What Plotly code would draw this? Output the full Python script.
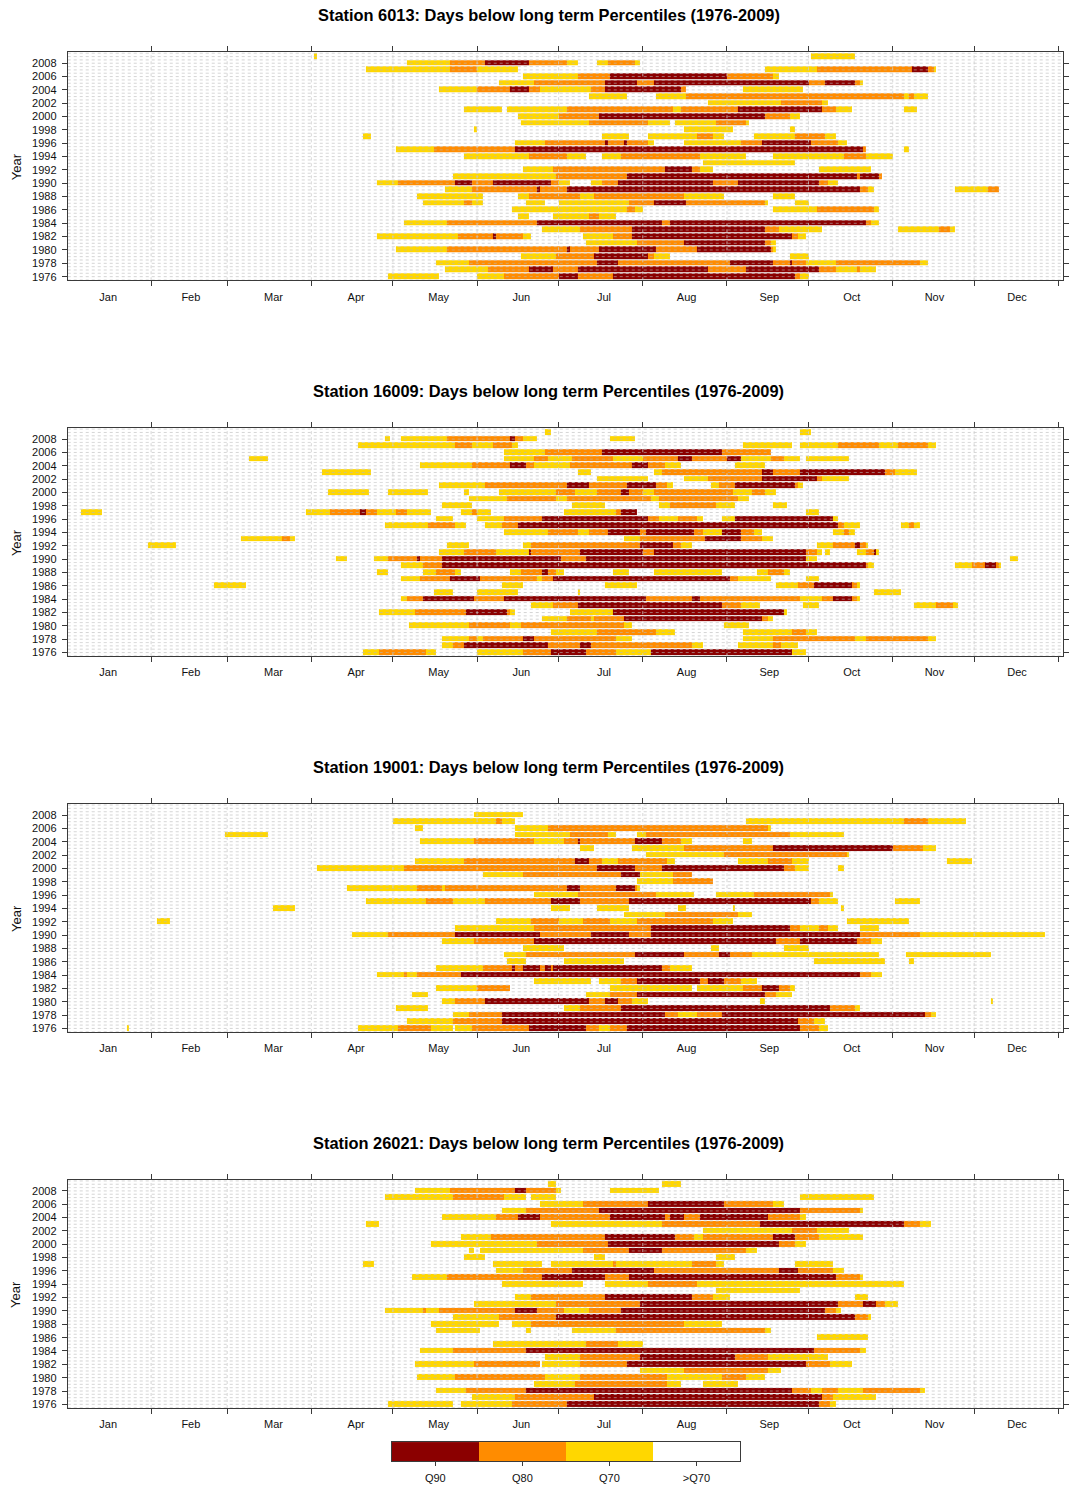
import numpy as np
import plotly.graph_objects as go

# ---------------------------------------------------------------------------
# Data
# ---------------------------------------------------------------------------
YEARS = list(range(1976, 2010))
MONTH_LABELS = ["Jan", "Feb", "Mar", "Apr", "May", "Jun",
                "Jul", "Aug", "Sep", "Oct", "Nov", "Dec"]
MONTH_DAYS = [31, 28, 31, 30, 31, 30, 31, 31, 30, 31, 30, 31]
YEAR_TICKS = list(range(1976, 2009, 2))
LEVEL_LABELS = ["Q90", "Q80", "Q70", ">Q70"]
LEVEL_COLORS = ["#8B0000", "#FF8C00", "#FFD700", "#FFFFFF"]
STATIONS = ["6013", "16009", "19001", "26021"]

# Runs of days below a long-term percentile, per year:
# (first_day, end_day, level); day 0 = 1 Jan, end exclusive;
# level 3 = below Q90, 2 = below Q80, 1 = below Q70.
RUNS_6013 = [
    (2009, [(91, 92, 1), (274, 290, 1)]),
    (2008, [(125, 141, 1), (141, 154, 2), (154, 170, 3), (170, 184, 2), (184, 188, 1), (195, 199, 1), (199, 209, 2), (209, 211, 1)]),
    (2007, [(110, 141, 1), (141, 151, 2), (151, 166, 1), (257, 276, 1), (276, 311, 2), (311, 317, 3), (317, 319, 2), (319, 320, 1)]),
    (2006, [(168, 188, 1), (188, 200, 2), (200, 243, 3), (243, 260, 2), (260, 262, 1)]),
    (2005, [(159, 172, 1), (172, 198, 2), (198, 210, 3), (210, 216, 2), (216, 273, 3), (273, 279, 2), (279, 290, 3), (290, 292, 2), (292, 293, 1)]),
    (2004, [(137, 151, 1), (151, 163, 2), (163, 170, 3), (170, 174, 2), (174, 193, 1), (193, 198, 2), (198, 226, 3), (226, 228, 2), (249, 271, 1)]),
    (2003, [(192, 206, 1), (217, 228, 1), (228, 308, 2), (308, 310, 1), (310, 312, 2), (312, 317, 1)]),
    (2002, [(236, 263, 1), (263, 278, 2), (278, 280, 1)]),
    (2001, [(146, 160, 1), (162, 184, 1), (184, 223, 2), (223, 226, 1), (226, 247, 2), (247, 278, 3), (278, 283, 2), (283, 289, 1), (308, 313, 1)]),
    (2000, [(166, 181, 1), (181, 196, 2), (196, 257, 3), (257, 266, 2), (266, 270, 1)]),
    (1999, [(167, 192, 1), (192, 214, 2), (214, 222, 1), (224, 239, 1), (239, 250, 2), (250, 251, 1)]),
    (1998, [(150, 151, 1), (227, 245, 1), (266, 268, 1)]),
    (1997, [(109, 112, 1), (197, 207, 1), (214, 232, 1), (232, 238, 2), (238, 242, 1), (253, 268, 1), (268, 279, 2), (279, 283, 1)]),
    (1996, [(165, 176, 1), (176, 198, 2), (198, 199, 3), (199, 205, 2), (205, 206, 3), (206, 214, 2), (214, 216, 1), (227, 248, 1), (248, 256, 2), (256, 274, 3), (274, 284, 2), (284, 287, 1)]),
    (1995, [(121, 135, 1), (135, 165, 2), (165, 293, 3), (293, 294, 2), (308, 310, 1)]),
    (1994, [(146, 170, 1), (170, 184, 2), (184, 191, 1), (197, 204, 1), (204, 233, 2), (233, 250, 1), (260, 286, 1), (286, 294, 2), (294, 304, 1)]),
    (1993, [(234, 268, 1)]),
    (1992, [(168, 179, 1), (179, 220, 2), (220, 230, 3), (230, 233, 2), (233, 238, 1), (277, 296, 1)]),
    (1991, [(142, 180, 1), (180, 206, 2), (206, 291, 3), (291, 292, 2), (292, 299, 3), (299, 300, 2)]),
    (1990, [(114, 122, 1), (122, 143, 2), (143, 149, 3), (149, 157, 2), (157, 178, 3), (178, 181, 2), (181, 185, 1), (193, 197, 1), (197, 203, 2), (203, 238, 3), (238, 247, 2), (247, 277, 3), (277, 280, 2), (280, 284, 1)]),
    (1989, [(139, 149, 1), (149, 173, 2), (173, 174, 3), (174, 184, 2), (184, 292, 3), (292, 295, 2), (295, 297, 1), (327, 339, 1), (339, 343, 2)]),
    (1988, [(129, 153, 1), (166, 170, 1), (170, 189, 2), (189, 194, 1), (194, 227, 2), (227, 242, 1), (260, 268, 1)]),
    (1987, [(131, 146, 1), (146, 149, 2), (149, 153, 1), (169, 176, 1), (181, 207, 1), (207, 216, 2), (216, 228, 3), (228, 257, 2), (257, 258, 1), (268, 273, 1)]),
    (1986, [(164, 206, 1), (206, 209, 2), (209, 212, 1), (260, 276, 1), (276, 297, 2), (297, 299, 1)]),
    (1985, [(166, 170, 1), (179, 192, 1), (192, 196, 2), (196, 202, 1)]),
    (1984, [(124, 140, 1), (140, 173, 2), (173, 219, 3), (219, 222, 2), (222, 294, 3), (294, 296, 2), (296, 299, 1)]),
    (1983, [(175, 189, 1), (189, 208, 2), (208, 257, 3), (257, 262, 2), (262, 278, 1), (306, 321, 1), (321, 325, 2), (325, 327, 1)]),
    (1982, [(114, 144, 1), (144, 157, 2), (157, 158, 3), (158, 168, 2), (168, 171, 1), (190, 201, 1), (201, 208, 2), (208, 267, 3), (267, 269, 2), (269, 272, 1)]),
    (1981, [(191, 210, 1), (210, 227, 2), (227, 257, 3), (257, 259, 2), (259, 261, 1)]),
    (1980, [(121, 140, 1), (140, 184, 2), (184, 185, 3), (185, 196, 2), (196, 217, 3), (217, 232, 2), (232, 259, 3), (259, 260, 2), (260, 261, 1)]),
    (1979, [(167, 180, 1), (180, 194, 2), (194, 214, 3), (214, 216, 2), (216, 222, 1), (266, 273, 1)]),
    (1978, [(136, 148, 1), (148, 195, 2), (195, 203, 3), (203, 244, 2), (244, 260, 3), (260, 266, 2), (266, 267, 3), (267, 272, 2), (272, 283, 1), (283, 314, 2), (314, 317, 1)]),
    (1977, [(139, 155, 1), (155, 170, 2), (170, 179, 3), (179, 188, 2), (188, 236, 3), (236, 250, 2), (250, 277, 3), (277, 283, 2), (283, 291, 1), (291, 292, 2), (292, 298, 1)]),
    (1976, [(118, 137, 1), (151, 161, 1), (161, 181, 2), (181, 188, 3), (188, 201, 2), (201, 268, 3), (268, 270, 2), (270, 273, 1)]),
]

RUNS_16009 = [
    (2009, [(176, 178, 1), (270, 274, 1)]),
    (2008, [(117, 119, 1), (123, 140, 1), (140, 163, 2), (163, 165, 3), (165, 168, 2), (168, 173, 1), (200, 209, 1)]),
    (2007, [(107, 143, 1), (143, 149, 2), (149, 157, 1), (157, 164, 2), (164, 166, 1), (249, 267, 1), (270, 284, 1), (284, 299, 2), (299, 306, 1), (306, 317, 2), (317, 320, 1)]),
    (2006, [(161, 176, 1), (176, 197, 2), (197, 241, 3), (241, 259, 2)]),
    (2005, [(67, 74, 1), (161, 172, 1), (172, 177, 2), (177, 186, 1), (186, 201, 2), (201, 212, 1), (212, 225, 2), (225, 230, 3), (230, 243, 2), (243, 248, 3), (248, 259, 1), (259, 264, 2), (264, 270, 1), (272, 288, 1)]),
    (2004, [(130, 149, 1), (149, 163, 2), (163, 169, 3), (169, 172, 2), (172, 185, 1), (185, 208, 2), (208, 214, 3), (214, 220, 2), (220, 226, 1), (246, 257, 1)]),
    (2003, [(94, 112, 1), (188, 193, 1), (216, 219, 1), (219, 256, 2), (256, 260, 3), (260, 270, 2), (270, 301, 3), (301, 305, 2), (305, 313, 1)]),
    (2002, [(195, 214, 1), (227, 236, 1), (236, 256, 2), (256, 276, 3), (276, 278, 2), (278, 288, 1)]),
    (2001, [(137, 154, 1), (154, 184, 2), (184, 192, 3), (192, 206, 2), (206, 217, 3), (217, 221, 2), (221, 223, 1), (237, 240, 1), (240, 246, 2), (246, 268, 3), (268, 269, 2), (269, 271, 1)]),
    (2000, [(96, 111, 1), (118, 133, 1), (146, 148, 1), (159, 180, 1), (180, 187, 2), (187, 195, 1), (195, 204, 2), (204, 207, 3), (207, 212, 2), (212, 216, 1), (216, 245, 2), (245, 252, 1), (252, 257, 2), (257, 261, 1)]),
    (1999, [(148, 162, 1), (162, 180, 2), (180, 184, 1), (184, 215, 2), (215, 218, 1), (218, 247, 2), (247, 251, 1)]),
    (1998, [(138, 149, 1), (186, 198, 1), (218, 222, 1), (222, 239, 2), (239, 246, 1), (260, 265, 1)]),
    (1997, [(5, 13, 1), (88, 97, 1), (97, 108, 2), (108, 110, 3), (110, 114, 2), (114, 121, 1), (121, 125, 2), (125, 134, 1), (145, 149, 1), (149, 151, 2), (151, 156, 1), (183, 202, 1), (202, 204, 2), (204, 210, 3), (272, 277, 1)]),
    (1996, [(136, 142, 1), (151, 161, 1), (161, 175, 2), (175, 214, 3), (214, 218, 2), (218, 225, 1), (225, 232, 2), (232, 234, 1), (241, 246, 1), (246, 282, 3), (282, 284, 1)]),
    (1995, [(117, 133, 1), (133, 143, 2), (143, 147, 1), (154, 160, 1), (160, 166, 2), (166, 284, 3), (284, 286, 2), (286, 292, 1), (307, 310, 1), (310, 312, 2), (312, 314, 1)]),
    (1994, [(161, 177, 1), (177, 188, 2), (188, 192, 1), (192, 199, 2), (199, 211, 3), (211, 213, 2), (213, 231, 3), (231, 234, 2), (234, 241, 1), (241, 248, 3), (248, 253, 2), (253, 256, 1), (282, 286, 1), (286, 288, 2), (288, 290, 1)]),
    (1993, [(64, 79, 1), (79, 82, 2), (82, 84, 1), (205, 211, 1), (211, 235, 2), (235, 248, 3), (248, 256, 2), (256, 260, 1)]),
    (1992, [(30, 40, 1), (140, 148, 1), (168, 171, 1), (171, 211, 2), (211, 223, 3), (223, 226, 2), (226, 230, 1), (276, 282, 1), (282, 290, 2), (290, 292, 3), (292, 294, 2), (294, 295, 1)]),
    (1991, [(137, 146, 1), (146, 158, 2), (158, 170, 1), (170, 171, 3), (171, 189, 2), (189, 212, 3), (212, 216, 2), (216, 272, 3), (272, 276, 2), (276, 278, 1), (279, 281, 1), (291, 294, 1), (294, 297, 2), (297, 298, 3), (298, 299, 1)]),
    (1990, [(99, 103, 1), (113, 118, 1), (118, 129, 2), (129, 130, 3), (130, 138, 2), (138, 182, 3), (182, 191, 2), (191, 272, 3), (272, 276, 1), (347, 350, 1)]),
    (1989, [(123, 131, 1), (131, 138, 2), (138, 294, 3), (294, 295, 2), (295, 297, 1), (327, 333, 1), (333, 338, 2), (338, 342, 3), (342, 343, 2), (343, 344, 1)]),
    (1988, [(114, 118, 1), (131, 136, 1), (136, 143, 2), (143, 145, 1), (163, 167, 1), (167, 175, 2), (175, 177, 3), (177, 180, 2), (180, 183, 1), (201, 207, 1), (216, 241, 1), (254, 258, 1), (258, 264, 2), (264, 266, 1)]),
    (1987, [(123, 130, 1), (130, 141, 2), (141, 152, 3), (152, 173, 2), (173, 175, 1), (175, 179, 2), (179, 244, 3), (244, 247, 2), (247, 259, 1), (272, 277, 1)]),
    (1986, [(54, 66, 1), (160, 168, 1), (198, 210, 1), (261, 269, 1), (269, 275, 2), (275, 289, 3), (289, 291, 2), (291, 292, 1)]),
    (1985, [(135, 142, 1), (151, 166, 1), (188, 189, 1), (297, 307, 1)]),
    (1984, [(123, 125, 1), (125, 131, 2), (131, 150, 3), (150, 161, 2), (161, 213, 3), (213, 230, 2), (230, 233, 3), (233, 270, 2), (270, 278, 1), (278, 282, 2), (282, 289, 3), (289, 291, 2), (291, 292, 1)]),
    (1983, [(171, 179, 1), (179, 188, 2), (188, 241, 3), (241, 248, 2), (248, 255, 1), (271, 277, 1), (312, 320, 1), (320, 326, 2), (326, 328, 1)]),
    (1982, [(115, 128, 1), (128, 147, 2), (147, 162, 3), (162, 163, 2), (163, 165, 1), (185, 201, 1), (201, 264, 3), (264, 265, 1)]),
    (1981, [(175, 184, 1), (184, 193, 2), (193, 194, 1), (194, 205, 2), (205, 256, 3), (256, 258, 2), (258, 260, 1)]),
    (1980, [(126, 148, 1), (148, 163, 2), (163, 167, 1), (167, 205, 2), (205, 208, 1), (242, 251, 1)]),
    (1979, [(178, 195, 1), (195, 217, 2), (217, 224, 1), (249, 267, 1), (267, 272, 2), (272, 276, 1)]),
    (1978, [(138, 148, 1), (148, 151, 2), (151, 153, 1), (153, 168, 2), (168, 172, 3), (172, 202, 2), (202, 208, 1), (249, 260, 1), (260, 290, 2), (290, 294, 1), (294, 317, 2), (317, 320, 1)]),
    (1977, [(138, 142, 1), (142, 146, 2), (146, 177, 3), (177, 189, 2), (189, 193, 3), (193, 230, 2), (230, 234, 1), (247, 260, 1), (260, 263, 2), (263, 269, 1)]),
    (1976, [(109, 115, 1), (115, 132, 2), (132, 136, 1), (151, 168, 1), (168, 178, 2), (178, 191, 3), (191, 202, 2), (202, 215, 1), (215, 267, 3), (267, 272, 1)]),
]

RUNS_19001 = [
    (2008, [(150, 168, 1)]),
    (2007, [(120, 158, 1), (158, 160, 2), (160, 165, 1), (250, 308, 1), (308, 317, 2), (317, 331, 1)]),
    (2006, [(128, 131, 1), (165, 177, 1), (177, 258, 2), (258, 259, 1)]),
    (2005, [(58, 74, 1), (165, 185, 1), (185, 199, 2), (199, 202, 1), (210, 213, 1), (213, 266, 2), (266, 286, 1)]),
    (2004, [(130, 150, 1), (150, 172, 2), (172, 183, 1), (183, 188, 2), (188, 189, 3), (189, 209, 2), (209, 219, 3), (219, 226, 2), (226, 230, 1), (249, 252, 1)]),
    (2003, [(189, 194, 1), (208, 227, 1), (227, 260, 2), (260, 304, 3), (304, 315, 2), (315, 320, 1)]),
    (2002, [(213, 242, 1), (242, 287, 2), (287, 288, 1)]),
    (2001, [(128, 146, 1), (146, 187, 2), (187, 192, 3), (192, 197, 2), (197, 203, 1), (203, 221, 2), (221, 224, 1), (247, 258, 1), (258, 267, 2), (267, 273, 1), (324, 333, 1)]),
    (2000, [(92, 124, 1), (124, 195, 2), (195, 209, 3), (209, 219, 2), (219, 264, 3), (264, 268, 2), (268, 273, 1), (284, 286, 1)]),
    (1999, [(153, 168, 1), (168, 204, 2), (204, 211, 3), (211, 223, 1), (223, 230, 2)]),
    (1998, [(210, 223, 1), (223, 238, 2)]),
    (1997, [(103, 129, 1), (129, 138, 2), (138, 139, 1), (139, 184, 2), (184, 189, 3), (189, 202, 2), (202, 209, 3), (209, 210, 2), (210, 211, 1)]),
    (1996, [(172, 188, 1), (188, 217, 2), (217, 231, 1), (239, 253, 1), (253, 281, 2), (281, 282, 1)]),
    (1995, [(110, 132, 1), (132, 142, 2), (142, 154, 1), (154, 178, 2), (178, 189, 3), (189, 207, 2), (207, 274, 3), (274, 277, 2), (277, 284, 1), (305, 314, 1)]),
    (1994, [(76, 84, 1), (178, 185, 1), (195, 207, 1), (225, 228, 1), (245, 246, 1), (285, 286, 1)]),
    (1993, [(205, 220, 1), (220, 247, 2), (247, 252, 1)]),
    (1992, [(33, 38, 1), (158, 171, 1), (171, 181, 2), (181, 190, 1), (190, 200, 2), (200, 210, 1), (210, 238, 2), (238, 245, 1), (287, 310, 1)]),
    (1991, [(143, 172, 1), (172, 215, 2), (215, 266, 3), (266, 270, 2), (270, 277, 1), (277, 280, 2), (280, 284, 1), (292, 299, 1)]),
    (1990, [(105, 118, 1), (118, 143, 2), (143, 174, 3), (174, 193, 2), (193, 207, 3), (207, 215, 2), (215, 292, 3), (292, 314, 2), (314, 360, 1)]),
    (1989, [(138, 150, 1), (150, 172, 2), (172, 261, 3), (261, 270, 2), (270, 291, 3), (291, 296, 2), (296, 300, 1)]),
    (1988, [(168, 183, 1), (237, 240, 1), (264, 273, 1)]),
    (1987, [(161, 169, 1), (169, 209, 2), (209, 227, 3), (227, 240, 2), (240, 244, 3), (244, 252, 2), (252, 299, 1), (309, 340, 1)]),
    (1986, [(162, 169, 1), (183, 205, 1), (275, 301, 1), (310, 312, 1)]),
    (1985, [(136, 153, 1), (153, 164, 2), (164, 165, 3), (165, 168, 2), (168, 174, 3), (174, 176, 2), (176, 178, 3), (178, 179, 2), (179, 219, 3), (219, 222, 2), (222, 230, 1)]),
    (1984, [(114, 124, 1), (124, 125, 2), (125, 129, 1), (129, 145, 2), (145, 292, 3), (292, 296, 2), (296, 300, 1)]),
    (1983, [(172, 193, 1), (196, 204, 1), (204, 210, 2), (210, 233, 3), (233, 236, 2), (236, 242, 3), (242, 248, 2), (248, 254, 1)]),
    (1982, [(136, 151, 1), (151, 163, 2), (200, 230, 1), (232, 249, 1), (249, 256, 2), (256, 262, 3), (262, 266, 2), (266, 268, 1)]),
    (1981, [(127, 133, 1), (191, 200, 1), (200, 210, 2), (210, 257, 3), (257, 261, 2), (261, 267, 1)]),
    (1980, [(138, 143, 1), (143, 154, 2), (154, 192, 3), (192, 198, 2), (198, 203, 3), (203, 208, 2), (208, 214, 1), (255, 257, 1), (340, 341, 1)]),
    (1979, [(121, 133, 1), (183, 189, 1), (189, 204, 2), (204, 281, 3), (281, 290, 2), (290, 292, 1)]),
    (1978, [(142, 148, 1), (148, 160, 2), (160, 220, 3), (220, 225, 2), (225, 232, 1), (232, 241, 2), (241, 316, 3), (316, 318, 2), (318, 320, 1)]),
    (1977, [(125, 142, 1), (142, 160, 2), (160, 269, 3), (269, 275, 2), (275, 279, 1)]),
    (1976, [(22, 23, 1), (107, 122, 1), (122, 134, 2), (134, 142, 1), (143, 149, 1), (149, 170, 2), (170, 191, 3), (191, 196, 2), (196, 200, 1), (200, 206, 2), (206, 270, 3), (270, 277, 2), (277, 280, 1)]),
]

RUNS_26021 = [
    (2009, [(177, 180, 1), (219, 226, 1)]),
    (2008, [(128, 141, 1), (141, 165, 2), (165, 169, 3), (169, 180, 2), (180, 182, 1), (200, 218, 1)]),
    (2007, [(117, 142, 1), (142, 161, 2), (161, 169, 1), (171, 180, 1), (270, 297, 1)]),
    (2006, [(174, 190, 1), (190, 214, 2), (214, 242, 3), (242, 260, 2), (260, 264, 1)]),
    (2005, [(160, 169, 1), (169, 196, 2), (196, 270, 3), (270, 292, 2), (292, 293, 1)]),
    (2004, [(138, 158, 1), (158, 166, 2), (166, 174, 3), (174, 200, 2), (200, 220, 3), (220, 222, 2), (222, 227, 3), (227, 233, 2), (233, 258, 3), (258, 270, 2), (270, 272, 1)]),
    (2003, [(110, 115, 1), (178, 219, 1), (219, 255, 2), (255, 308, 3), (308, 314, 2), (314, 318, 1)]),
    (2002, [(234, 267, 1), (267, 276, 2), (276, 288, 1)]),
    (2001, [(145, 156, 1), (156, 198, 2), (198, 224, 3), (224, 231, 2), (231, 234, 1), (234, 260, 2), (260, 268, 3), (268, 277, 2), (277, 293, 1)]),
    (2000, [(134, 173, 1), (173, 199, 2), (199, 262, 3), (262, 268, 2), (268, 272, 1)]),
    (1999, [(148, 150, 1), (152, 190, 1), (190, 207, 2), (207, 219, 3), (219, 250, 2), (250, 254, 1)]),
    (1998, [(146, 154, 1), (194, 198, 1), (239, 246, 1)]),
    (1997, [(109, 113, 1), (157, 175, 1), (178, 201, 1), (201, 202, 2), (202, 230, 1), (230, 239, 2), (239, 242, 1), (268, 282, 1)]),
    (1996, [(158, 168, 1), (168, 186, 2), (186, 216, 3), (216, 262, 2), (262, 269, 3), (269, 282, 2), (282, 286, 1)]),
    (1995, [(127, 140, 1), (140, 175, 2), (175, 198, 3), (198, 207, 2), (207, 283, 3), (283, 292, 2), (292, 293, 1)]),
    (1994, [(160, 190, 1), (198, 214, 1), (214, 232, 2), (232, 308, 1)]),
    (1993, [(239, 270, 1)]),
    (1992, [(165, 171, 1), (171, 198, 2), (198, 230, 3), (230, 238, 2), (238, 244, 1), (290, 295, 1)]),
    (1991, [(150, 180, 1), (180, 211, 2), (211, 284, 3), (284, 293, 2), (293, 298, 3), (298, 301, 2), (301, 306, 1)]),
    (1990, [(117, 131, 1), (131, 132, 2), (132, 137, 1), (137, 165, 2), (165, 173, 3), (173, 183, 2), (183, 192, 1), (192, 204, 2), (204, 279, 3), (279, 283, 2), (283, 285, 1)]),
    (1989, [(142, 159, 1), (159, 180, 2), (180, 290, 3), (290, 295, 2), (295, 296, 1)]),
    (1988, [(134, 159, 1), (164, 171, 1), (171, 227, 2), (227, 241, 1)]),
    (1987, [(136, 152, 1), (169, 171, 1), (186, 202, 1), (202, 257, 2), (257, 259, 1)]),
    (1986, [(276, 295, 1)]),
    (1985, [(157, 191, 1), (191, 203, 2), (203, 212, 1)]),
    (1984, [(130, 142, 1), (142, 169, 2), (169, 275, 3), (275, 292, 2), (292, 294, 1)]),
    (1983, [(176, 189, 1), (189, 211, 2), (211, 246, 3), (246, 258, 2), (258, 280, 1)]),
    (1982, [(128, 150, 1), (150, 174, 2), (175, 189, 1), (189, 206, 2), (206, 272, 3), (272, 281, 2), (281, 289, 1)]),
    (1981, [(211, 227, 1), (227, 258, 2), (258, 263, 1)]),
    (1980, [(129, 143, 1), (143, 176, 2), (176, 189, 1), (189, 221, 2), (221, 241, 1), (241, 250, 2), (250, 257, 1)]),
    (1979, [(172, 187, 1), (187, 221, 2), (221, 226, 1), (234, 247, 1)]),
    (1978, [(136, 147, 1), (147, 169, 2), (169, 267, 3), (267, 274, 2), (274, 278, 1), (278, 284, 2), (284, 293, 1), (293, 314, 2), (314, 316, 1)]),
    (1977, [(149, 165, 1), (165, 194, 2), (194, 278, 3), (278, 282, 2), (282, 298, 1)]),
    (1976, [(118, 142, 1), (145, 164, 1), (164, 184, 2), (184, 277, 3), (277, 281, 2), (281, 283, 1)]),
]

STATION_RUNS = [RUNS_6013, RUNS_16009, RUNS_19001, RUNS_26021]

# ---------------------------------------------------------------------------
# Figure geometry (pixels in a 1069 x 1488 page)
# ---------------------------------------------------------------------------
W, H = 1069, 1488
FONT = "Liberation Sans, Arial, Helvetica, sans-serif"
X_LEFT, X_RIGHT = 68, 1067
PANEL_TOP, PANEL_BOTTOM = 52.3, 280.7
PANEL_STEP = 376.4
X_RANGE = [0.3, 366.7]
Y_RANGE = [1975.45, 2009.65]
AXIS_COLOR = "#3a3a3a"
GRID_COLOR = "rgba(185,185,185,0.6)"
BAR_GRID_COLOR = "rgba(235,235,235,0.35)"

month_starts = np.concatenate([[0], np.cumsum(MONTH_DAYS)])
month_mids = [(i + 0.5) * 365 / 12 for i in range(12)]
n_days = int(month_starts[-1])

# discrete colour scale: 0 = none, 1 = Q70, 2 = Q80, 3 = Q90
level_fill = LEVEL_COLORS[::-1]  # index by level value
colorscale = []
for k, c in enumerate(level_fill):
    colorscale += [[k / 4, c], [(k + 1) / 4, c]]


def px_to_paper_y(p):
    return 1 - p / H


def grid_lines(year_step):
    gx, gy = [], []
    for yv in np.arange(YEARS[0] - 0.5, YEARS[-1] + 0.51, year_step):
        gx += [X_RANGE[0], X_RANGE[1], None]
        gy += [yv, yv, None]
    for m in month_starts[1:-1]:
        gx += [m, m, None]
        gy += [Y_RANGE[0], Y_RANGE[1], None]
    return gx, gy


fig = go.Figure()
annotations = []

for i, (station, runs) in enumerate(zip(STATIONS, STATION_RUNS)):
    n = i + 1
    off = i * PANEL_STEP
    xa, ya = f"x{n}" if n > 1 else "x", f"y{n}" if n > 1 else "y"

    z = np.full((len(YEARS), n_days), np.nan)
    for year, segs in runs:
        for s, e, lev in segs:
            z[year - YEARS[0], s:e] = lev

    # dashed reference grid behind the bars
    gx, gy = grid_lines(0.5)
    fig.add_trace(go.Scatter(
        x=gx, y=gy, mode="lines", hoverinfo="skip", showlegend=False,
        line=dict(color=GRID_COLOR, width=1, dash="3px,3px"),
        xaxis=xa, yaxis=ya,
    ))

    fig.add_trace(go.Heatmap(
        z=z, x=np.arange(n_days) + 0.5, y=YEARS,
        zmin=-0.5, zmax=3.5, colorscale=colorscale, showscale=False,
        ygap=1, hoverinfo="skip", xaxis=xa, yaxis=ya,
    ))

    # faint continuation of the grid across the coloured runs
    gx, gy = grid_lines(1.0)
    fig.add_trace(go.Scatter(
        x=gx, y=[v if v is None else v + 0.0 for v in gy], mode="lines",
        hoverinfo="skip", showlegend=False,
        line=dict(color=BAR_GRID_COLOR, width=1, dash="3px,3px"),
        xaxis=xa, yaxis=ya,
    ))

    top, bottom = PANEL_TOP + off, PANEL_BOTTOM + off
    fig.update_layout({
        f"xaxis{n if n > 1 else ''}": dict(
            domain=[X_LEFT / W, X_RIGHT / W], range=X_RANGE, anchor=ya,
            tickmode="array", tickvals=month_mids, ticktext=MONTH_LABELS,
            ticks="outside", ticklen=6, tickcolor="rgba(0,0,0,0)",
            minor=dict(tickmode="array", tickvals=list(month_starts[1:]),
                       ticks="outside", ticklen=5, tickwidth=1,
                       tickcolor=AXIS_COLOR, showgrid=False),
            showline=True, linecolor=AXIS_COLOR, linewidth=1, mirror="ticks",
            showgrid=False, zeroline=False, ticklabelstandoff=0,
            tickfont=dict(family=FONT, size=11, color="#111"),
        ),
        f"yaxis{n if n > 1 else ''}": dict(
            domain=[px_to_paper_y(bottom), px_to_paper_y(top)],
            range=Y_RANGE, anchor=xa,
            tickmode="array", tickvals=YEAR_TICKS,
            ticks="outside", ticklen=5, tickwidth=1, tickcolor=AXIS_COLOR,
            showline=True, linecolor=AXIS_COLOR, linewidth=1, mirror="ticks",
            showgrid=False, zeroline=False, ticklabelstandoff=3,
            tickfont=dict(family=FONT, size=11, color="#111"),
        ),
    })

    annotations.append(dict(
        text=f"<b>Station {station}: Days below long term Percentiles "
             f"({YEARS[0]}-{YEARS[-1]})</b>",
        x=551 / W, y=px_to_paper_y(15 + off), xref="paper", yref="paper",
        xanchor="center", yanchor="middle", showarrow=False,
        font=dict(family=FONT, size=16.4, color="#000"),
    ))
    annotations.append(dict(
        text="Year", textangle=-90,
        x=16 / W, y=px_to_paper_y((top + bottom) / 2), xref="paper",
        yref="paper", xanchor="center", yanchor="middle", showarrow=False,
        font=dict(family=FONT, size=13, color="#111"),
    ))

# colour key below the last panel
fig.add_trace(go.Heatmap(
    z=[[3, 2, 1, 0]], x=[0, 1, 2, 3], y=[0],
    zmin=-0.5, zmax=3.5, colorscale=colorscale, showscale=False,
    hoverinfo="skip", xaxis="x5", yaxis="y5",
))
fig.update_layout(
    xaxis5=dict(domain=[393.3 / W, 742.7 / W], range=[-0.5, 3.5], anchor="y5",
                tickmode="array", tickvals=[0, 1, 2, 3], ticktext=LEVEL_LABELS,
                ticks="outside", ticklen=4, tickcolor=AXIS_COLOR,
                showline=True, linecolor=AXIS_COLOR, mirror=True,
                showgrid=False, zeroline=False, ticklabelstandoff=2,
                tickfont=dict(family=FONT, size=11, color="#111")),
    yaxis5=dict(domain=[px_to_paper_y(1463.3), px_to_paper_y(1444)],
                range=[-0.5, 0.5], anchor="x5", showticklabels=False,
                ticks="", showline=True, linecolor=AXIS_COLOR, mirror=True,
                showgrid=False, zeroline=False),
)

fig.update_layout(
    width=W, height=H, autosize=False,
    margin=dict(l=0, r=0, t=0, b=0),
    paper_bgcolor="white", plot_bgcolor="white",
    showlegend=False, hovermode=False,
    annotations=annotations,
)

fig.write_html("out.html", config={"displayModeBar": False})
